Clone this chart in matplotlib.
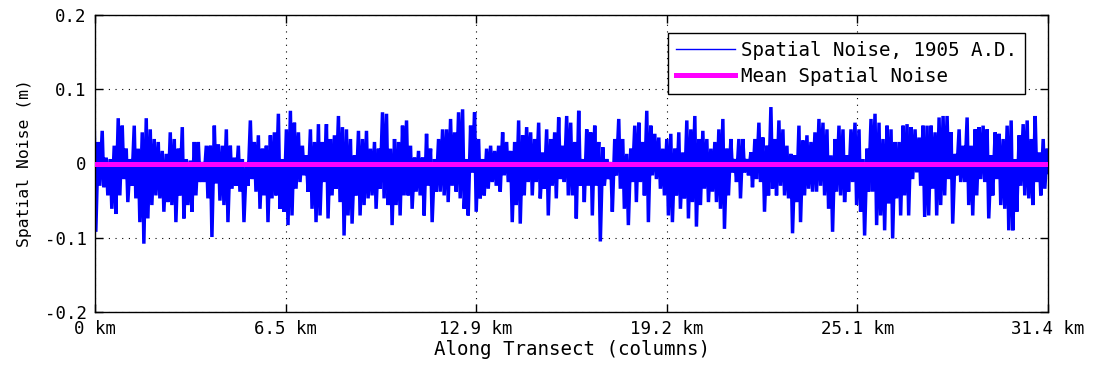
import numpy as np
import matplotlib
matplotlib.use("Agg")
import matplotlib.pyplot as plt

# Upper and lower excursion of the 1905 spatial noise in each group of columns (m)
noise_upper = [
    0.055, 0.029, 0.044, 0.008, 0.006, 0.024, 0.061, 0.051, 0.020, 0.006,
    0.051, 0.020, 0.042, 0.061, 0.046, 0.033, 0.029, 0.017, 0.013, 0.042,
    0.033, 0.020, 0.049, 0.006, 0.004, 0.029, 0.029,
    0.002, 0.024, 0.024, 0.051, 0.026, 0.024, 0.046, 0.024, 0.008, 0.024,
    0.006, 0.002, 0.058, 0.029, 0.038, 0.020, 0.024, 0.038, 0.042, 0.067,
    0.006, 0.046, 0.071, 0.055, 0.042, 0.024,
    0.011, 0.046, 0.029, 0.053, 0.029, 0.053, 0.033, 0.038, 0.064, 0.049,
    0.046, 0.033, 0.011, 0.044, 0.033, 0.044, 0.020, 0.029, 0.020, 0.069,
    0.067, 0.020, 0.033, 0.029, 0.051, 0.058, 0.024,
    0.008, 0.017, 0.008, 0.040, 0.020, 0.006, 0.033, 0.046, 0.046, 0.060,
    0.042, 0.069, 0.073, 0.006, 0.051, 0.069, 0.033, 0.006, 0.020, 0.024,
    0.017, 0.024, 0.042, 0.029, 0.017, 0.029, 0.058, 0.038, 0.049, 0.042,
    0.033, 0.055, 0.015, 0.046, 0.033, 0.042, 0.062, 0.024, 0.064,
    0.055, 0.029, 0.071, 0.006, 0.046, 0.042, 0.051, 0.029, 0.022, 0.006,
    0.002, 0.033, 0.060, 0.033, 0.013, 0.020, 0.051, 0.055, 0.029, 0.071,
    0.051, 0.040, 0.035, 0.020, 0.033, 0.040, 0.020, 0.042, 0.015, 0.058,
    0.046, 0.064, 0.033, 0.044, 0.033, 0.020, 0.029, 0.046, 0.060, 0.020,
    0.033, 0.006, 0.033, 0.033, 0.006, 0.015, 0.033, 0.055, 0.035, 0.024,
    0.076, 0.033, 0.058, 0.046, 0.024, 0.013, 0.011, 0.051, 0.031, 0.038,
    0.029, 0.042, 0.060, 0.055, 0.046, 0.011, 0.033, 0.051, 0.046, 0.011,
    0.046, 0.055, 0.046, 0.006, 0.020, 0.060, 0.067, 0.055, 0.033,
    0.051, 0.046, 0.029, 0.029, 0.051, 0.053, 0.049, 0.046, 0.035, 0.051,
    0.051, 0.051, 0.042, 0.062, 0.064, 0.064, 0.042, 0.013, 0.046, 0.024,
    0.062, 0.024, 0.046, 0.049, 0.051, 0.046, 0.011, 0.042, 0.040, 0.033,
    0.051, 0.058, 0.006, 0.038, 0.053, 0.058, 0.033, 0.064, 0.015, 0.033,
    0.020,
]

noise_lower = [
    -0.092, -0.030, -0.032, -0.043, -0.061, -0.068, -0.043, -0.021, -0.052, -0.030,
    -0.047, -0.079, -0.108, -0.074, -0.056, -0.043, -0.047, -0.065, -0.052, -0.056,
    -0.079, -0.043, -0.074, -0.056, -0.065, -0.043, -0.025,
    -0.025, -0.047, -0.099, -0.027, -0.050, -0.056, -0.079, -0.034, -0.030, -0.038,
    -0.079, -0.030, -0.021, -0.038, -0.061, -0.043, -0.079, -0.047, -0.043, -0.061,
    -0.065, -0.083, -0.070, -0.034, -0.025, -0.016,
    -0.038, -0.061, -0.079, -0.070, -0.025, -0.074, -0.043, -0.034, -0.052, -0.097,
    -0.070, -0.081, -0.043, -0.070, -0.056, -0.047, -0.043, -0.061, -0.034, -0.047,
    -0.056, -0.083, -0.056, -0.070, -0.043, -0.043, -0.061,
    -0.038, -0.043, -0.070, -0.030, -0.079, -0.038, -0.038, -0.043, -0.052, -0.030,
    -0.038, -0.047, -0.061, -0.070, -0.012, -0.065, -0.047, -0.043, -0.034, -0.025,
    -0.030, -0.038, -0.016, -0.025, -0.079, -0.056, -0.081, -0.043, -0.025, -0.043,
    -0.025, -0.047, -0.034, -0.070, -0.030, -0.047, -0.021, -0.025, -0.043,
    -0.043, -0.074, -0.030, -0.052, -0.030, -0.070, -0.030, -0.105, -0.030, -0.021,
    -0.065, -0.016, -0.034, -0.061, -0.083, -0.025, -0.052, -0.025, -0.043, -0.079,
    -0.016, -0.021, -0.034, -0.043, -0.070, -0.079, -0.043, -0.061, -0.047, -0.074,
    -0.052, -0.085, -0.056, -0.034, -0.052, -0.038, -0.052, -0.061, -0.088, -0.043,
    -0.012, -0.025, -0.047, -0.012, -0.016, -0.032, -0.021, -0.025, -0.065, -0.043,
    -0.034, -0.043, -0.030, -0.043, -0.047, -0.094, -0.052, -0.079, -0.043, -0.034,
    -0.038, -0.038, -0.030, -0.043, -0.061, -0.092, -0.038, -0.043, -0.052, -0.038,
    -0.025, -0.056, -0.065, -0.097, -0.038, -0.038, -0.083, -0.070, -0.090,
    -0.054, -0.101, -0.047, -0.070, -0.043, -0.070, -0.021, -0.012, -0.030, -0.072,
    -0.070, -0.034, -0.070, -0.056, -0.043, -0.021, -0.081, -0.016, -0.025, -0.025,
    -0.056, -0.070, -0.043, -0.021, -0.025, -0.074, -0.043, -0.021, -0.056, -0.061,
    -0.090, -0.090, -0.065, -0.030, -0.043, -0.047, -0.056, -0.025, -0.043, -0.034,
    -0.012,
]

mean_noise = 0.0

x_tick_labels = ["0 km", "6.5 km", "12.9 km", "19.2 km", "25.1 km", "31.4 km"]
y_ticks = [-0.2, -0.1, 0.0, 0.1, 0.2]
y_tick_labels = ["-0.2", "-0.1", "0", "0.1", "0.2"]

upper = np.asarray(noise_upper)
lower = np.asarray(noise_lower)
columns = np.arange(len(upper))

plt.rcParams["font.family"] = ["DejaVu Sans Mono"]
plt.rcParams["font.size"] = 12.5

fig = plt.figure(figsize=(10.93, 3.72), dpi=100)
ax = fig.add_axes([95 / 1093, 1 - 312 / 372, (1048 - 95) / 1093, (312 - 15) / 372])

# noise trace: in each column group the signal climbs to its upper value,
# then drops to its lower value before moving on
trace_x = np.column_stack([columns - 0.2, columns + 0.2]).ravel()
trace_y = np.column_stack([upper, lower]).ravel()
line_noise, = ax.plot(trace_x, trace_y, color="blue", lw=2.5, zorder=2,
                      solid_joinstyle="miter", label="Spatial Noise, 1905 A.D.")
line_mean, = ax.plot(columns, np.full(len(columns), mean_noise), color="magenta",
                     lw=3.6, zorder=3, label="Mean Spatial Noise")

ax.set_xlim(columns[0], columns[-1])
ax.set_ylim(-0.2, 0.2)
ax.set_xticks(np.linspace(columns[0], columns[-1], len(x_tick_labels)))
ax.set_xticklabels(x_tick_labels)
ax.set_yticks(y_ticks)
ax.set_yticklabels(y_tick_labels)

ax.grid(True, color="black", linestyle=(0, (1, 5)), linewidth=0.8)
ax.tick_params(direction="in", top=True, right=True, length=6, width=1, pad=6,
               colors="black")
for sp in ax.spines.values():
    sp.set_linewidth(1.0)
    sp.set_color("black")

ax.set_xlabel("Along Transect (columns)", fontsize=13.8, labelpad=1)
ax.set_ylabel("Spatial Noise (m)", fontsize=11.8, labelpad=9)

leg = ax.legend(handles=[line_noise, line_mean], loc="upper right",
                bbox_to_anchor=(1025 / 1093, 1 - 33 / 372),
                bbox_transform=fig.transFigure, fontsize=13.8,
                fancybox=False, framealpha=1, edgecolor="black",
                handlelength=3.1, handletextpad=0.3, borderpad=0.42,
                labelspacing=0.35, borderaxespad=0)
leg.get_frame().set_linewidth(1.0)
leg.get_lines()[0].set_linewidth(1.0)

fig.savefig("out.png", dpi=100)
